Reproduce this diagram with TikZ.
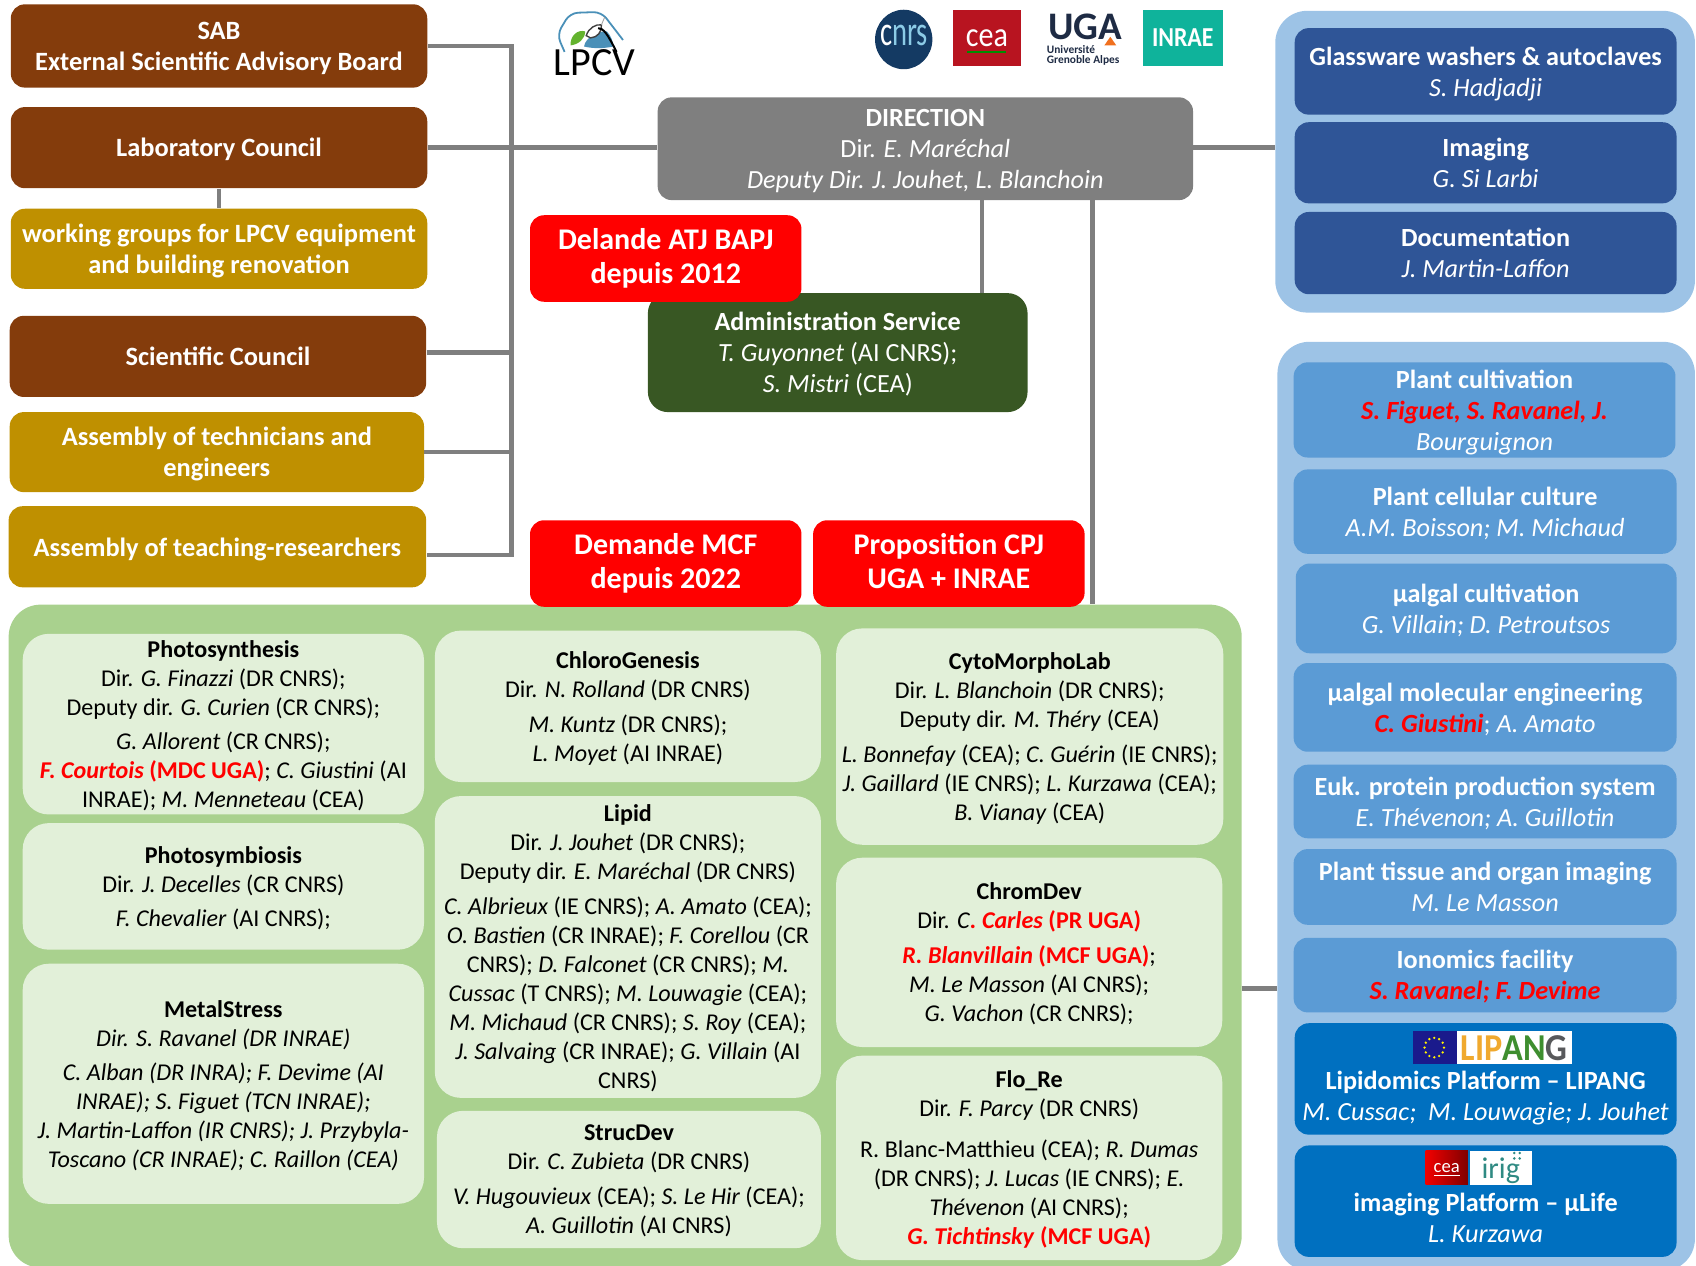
\documentclass[tikz,border=0pt]{standalone}
\usepackage{fontspec}
\setmainfont{Carlito}
\usepackage{xcolor}
\usepackage{graphicx}
\usetikzlibrary{calc,positioning,shapes.geometric}
\definecolor{brownbox}{HTML}{843C0C}
\definecolor{goldbox}{HTML}{BF9000}
\definecolor{greybox}{HTML}{7F7F7F}
\definecolor{adminbox}{HTML}{385723}
\definecolor{teamback}{HTML}{A9D18E}
\definecolor{teambox}{HTML}{E2F0D9}
\definecolor{panelback}{HTML}{9DC3E6}
\definecolor{servicebox}{HTML}{2F5597}
\definecolor{facilitybox}{HTML}{5B9BD5}
\definecolor{platformbox}{HTML}{0070C0}
\definecolor{cnrsblue}{HTML}{143A63}
\definecolor{cnrslight}{HTML}{8CCBE6}
\definecolor{ceared}{HTML}{B81420}
\definecolor{ugadark}{HTML}{1E2B44}
\definecolor{ugaorange}{HTML}{F0701E}
\definecolor{inraeteal}{HTML}{0FB39B}
\definecolor{lpcvblue}{HTML}{4A90B8}
\definecolor{lpcvleaf}{HTML}{63B32E}
\definecolor{euflag}{HTML}{1A1A8C}
\definecolor{lipangorange}{HTML}{F0A92E}
\definecolor{lipanggreen}{HTML}{3E8E2F}
\definecolor{lipanggrey}{HTML}{58595B}
\definecolor{irigteal}{HTML}{2F8A83}
\def\unitpx{0.5408pt}
\newcommand{\nm}[1]{\textit{#1}}
\newcommand{\hot}[1]{\textcolor{red}{\textbf{\textit{#1}}}}
\newcommand{\hotb}[1]{\textcolor{red}{\textbf{#1}}}
\tikzset{
  boxsize/.style 2 args={ % width and height, in reference pixels
    minimum width=#1*\unitpx, minimum height=#2*\unitpx
  },
  org/.style={
    rectangle, rounded corners=7pt, inner sep=0pt, align=center, text=white, text depth=0pt,
    font=\fontsize{13.1}{15.5}\selectfont
  },
  brown/.style={org, fill=brownbox, font=\fontsize{13.2}{15.5}\selectfont\bfseries},
  gold/.style={org, fill=goldbox, font=\fontsize{13.2}{15.5}\selectfont\bfseries},
  alert/.style={org, fill=red, text depth=3pt, font=\fontsize{15}{17}\selectfont\bfseries},
  panel/.style={rectangle, rounded corners=16pt, inner sep=0pt},
  team/.style={
    rectangle, rounded corners=13pt, inner sep=0pt, align=center, text=black, text depth=0pt,
    fill=teambox, font=\fontsize{12.05}{14.5}\selectfont
  },
  lowered/.style={execute at begin node={\rule{0pt}{10.5pt}}}, % text a little under the centre
  service/.style={org, fill=servicebox},
  facility/.style={org, fill=facilitybox},
  platform/.style={org, fill=platformbox},
  link/.style={draw=greybox, line width=2.3pt},
  logotext/.style={inner sep=0pt, align=center, text depth=0pt}
}
\begin{document}
\begin{tikzpicture}[x=\unitpx, y=-\unitpx]
  \path[use as bounding box, clip] (0,0) rectangle (1568,1170);

  % back panels
  \node[panel, fill=teamback, boxsize={1140}{613}] (research) at (578,865.5) {};
  \node[panel, fill=panelback, boxsize={388}{279}] (services) at (1373,149.5) {};
  \node[panel, fill=panelback, boxsize={386}{859}] (facilities) at (1374,745.5) {};

  % left column
  \node[brown, boxsize={385}{77}] (sab) at (202.5,42.5) {SAB\\External Scientific Advisory Board};
  \node[brown, boxsize={385}{75}] (council) at (202.5,136.5) {Laboratory Council};
  \node[gold, boxsize={385}{74}] (groups) at (202.5,230) {working groups for LPCV equipment\\and building renovation};
  \node[brown, boxsize={385}{75}] (scientific) at (201.5,329.5) {Scientific Council};
  \node[gold, boxsize={383}{74}] (technicians) at (200.5,418) {Assembly of technicians and\\engineers};
  \node[gold, boxsize={386}{75}] (teaching) at (201,505.5) {Assembly of teaching-researchers};

  % middle
  \node[org, fill=greybox, boxsize={495}{95}] (direction) at (855.5,137.5)
    {\textbf{DIRECTION}\\Dir. \nm{E. Maréchal}\\\nm{Deputy Dir. J. Jouhet, L. Blanchoin}};
  \node[org, fill=adminbox, rounded corners=10pt, boxsize={351}{110}] (admin) at (774.5,326)
    {\textbf{Administration Service}\\\nm{T. Guyonnet} (AI CNRS);\\\nm{S. Mistri} (CEA)};
  \node[alert, boxsize={251}{80}] (delande) at (615.5,239) {Delande ATJ BAPJ\\depuis 2012};
  \node[alert, boxsize={251}{80}] (demande) at (615.5,521) {Demande MCF\\depuis 2022};
  \node[alert, boxsize={251}{80}, right=10*\unitpx of demande] (cpj) {Proposition CPJ\\UGA + INRAE};

  % connectors
  \coordinate (spine) at (473,42);
  \coordinate (scientifictap) at ($(scientific.east)+(0,-3.5)$);
  \coordinate (teachingtap) at ($(teaching.east)+(0,7.5)$);
  \coordinate (admintap) at ($(direction.south)+(52.5,0)$);
  \coordinate (teamtap) at ($(direction.south)+(154.5,0)$);
  \coordinate (facilitytap) at (1148,914);
  \draw[link] (sab.east) -- (sab.east -| spine) -- (teachingtap -| spine) -- (teachingtap);
  \draw[link] (council.east) -- (council.east -| direction.west);
  \draw[link] (council.south) -- (council.south |- groups.north);
  \draw[link] (scientifictap) -- (scientifictap -| spine);
  \draw[link] (technicians.east) -- (technicians.east -| spine);
  \draw[link] (council.east -| direction.east) -- (council.east -| services.west);
  \draw[link] (admintap) -- (admintap |- admin.north);
  \draw[link] (teamtap) -- (teamtap |- research.north);
  \draw[link] (facilitytap) -- (facilitytap -| facilities.west);

  % teams
  \node[team, boxsize={371}{167}] (photosynthesis) at (206.5,669.5)
    {\textbf{Photosynthesis}\\Dir. \nm{G. Finazzi} (DR CNRS);\\Deputy dir. \nm{G. Curien} (CR CNRS);\\[2.7pt]
     \nm{G. Allorent} (CR CNRS);\\\hot{F. Courtois} \hotb{(MDC UGA)}; \nm{C. Giustini} (AI\\INRAE); \nm{M. Menneteau} (CEA)};
  \node[team, boxsize={371}{117}] (photosymbiosis) at (206.5,819.5)
    {\textbf{Photosymbiosis}\\Dir. \nm{J. Decelles} (CR CNRS)\\[2.7pt]\nm{F. Chevalier} (AI CNRS);};
  \node[team, lowered, boxsize={371}{222}] (metalstress) at (206.5,1002)
    {\textbf{MetalStress}\\\nm{Dir. S. Ravanel (DR INRAE)}\\[2.7pt]
     \nm{C. Alban (DR INRA); F. Devime (AI}\\\nm{INRAE); S. Figuet (TCN INRAE);}\\\nm{J. Martin-Laffon (IR CNRS); J. Przybyla-}\\\nm{Toscano (CR INRAE); C. Raillon (CEA)}};
  \node[team, boxsize={357}{140}] (chlorogenesis) at (580.5,653)
    {\textbf{ChloroGenesis}\\Dir. \nm{N. Rolland} (DR CNRS)\\[3pt]\nm{M. Kuntz} (DR CNRS);\\\nm{L. Moyet} (AI INRAE)};
  \node[team, boxsize={357}{279}] (lipid) at (580.5,875.5)
    {\textbf{Lipid}\\Dir. \nm{J. Jouhet} (DR CNRS);\\Deputy dir. \nm{E. Maréchal} (DR CNRS)\\[3pt]
     \nm{C. Albrieux} (IE CNRS); \nm{A. Amato} (CEA);\\\nm{O. Bastien} (CR INRAE); \nm{F. Corellou} (CR\\CNRS); \nm{D. Falconet} (CR CNRS); \nm{M.}\\
     \nm{Cussac} (T CNRS); \nm{M. Louwagie} (CEA);\\\nm{M. Michaud} (CR CNRS); \nm{S. Roy} (CEA);\\\nm{J. Salvaing} (CR INRAE); \nm{G. Villain} (AI\\CNRS)};
  \node[team, lowered, boxsize={355}{127}] (strucdev) at (581.5,1090.5)
    {\textbf{StrucDev}\\Dir. \nm{C. Zubieta} (DR CNRS)\\[3pt]\nm{V. Hugouvieux} (CEA); \nm{S. Le Hir} (CEA);\\\nm{A. Guillotin} (AI CNRS)};
  \node[team, boxsize={358}{200}] (cytomorpholab) at (952,681)
    {\textbf{CytoMorphoLab}\\Dir. \nm{L. Blanchoin} (DR CNRS);\\Deputy dir. \nm{M. Théry} (CEA)\\[3pt]
     \nm{L. Bonnefay} (CEA); \nm{C. Guérin} (IE CNRS);\\\nm{J. Gaillard} (IE CNRS); \nm{L. Kurzawa} (CEA);\\\nm{B. Vianay} (CEA)};
  \node[team, lowered, boxsize={357}{175}] (chromdev) at (951.5,880.5)
    {\textbf{ChromDev}\\Dir. \nm{C}\hot{. Carles} \hotb{(PR UGA)}\\[3pt]
     \hot{R. Blanvillain} \hotb{(MCF UGA)};\\\nm{M. Le Masson} (AI CNRS);\\\nm{G. Vachon} (CR CNRS);};
  \node[team, lowered, boxsize={357}{189}] (flore) at (951.5,1070.5)
    {\textbf{Flo\_Re}\\Dir. \nm{F. Parcy} (DR CNRS)\\[6pt]
     R. Blanc-Matthieu (CEA); \nm{R. Dumas}\\(DR CNRS); \nm{J. Lucas} (IE CNRS); \nm{E.}\\\nm{Thévenon} (AI CNRS);\\\hot{G. Tichtinsky} \hotb{(MCF UGA)}};

  % right column
  \node[service, boxsize={353}{80}] (glassware) at (1373.5,66) {\textbf{Glassware washers \& autoclaves}\\\nm{S. Hadjadji}};
  \node[service, boxsize={353}{75}] (imaging) at (1373.5,150.5) {\textbf{Imaging}\\\nm{G. Si Larbi}};
  \node[service, boxsize={353}{76}] (documentation) at (1373.5,234) {\textbf{Documentation}\\\nm{J. Martin-Laffon}};
  \node[facility, boxsize={353}{88}] (cultivation) at (1372.5,379) {\textbf{Plant cultivation}\\\hot{S. Figuet, S. Ravanel, J.}\\\nm{Bourguignon}};
  \node[facility, boxsize={354}{78}] (cellular) at (1373,473) {\textbf{Plant cellular culture}\\\nm{A.M. Boisson; M. Michaud}};
  \node[facility, boxsize={352}{83}] (mualgal) at (1374,562.5) {\textbf{µalgal cultivation}\\\nm{G. Villain; D. Petroutsos}};
  \node[facility, boxsize={354}{82}] (engineering) at (1373,654) {\textbf{µalgal molecular engineering}\\\hot{C. Giustini}; \nm{A. Amato}};
  \node[facility, boxsize={354}{68}] (euk) at (1373,741) {\textbf{Euk. protein production system}\\\nm{E. Thévenon; A. Guillotin}};
  \node[facility, boxsize={354}{70}] (tissue) at (1373,820) {\textbf{Plant tissue and organ imaging}\\\nm{M. Le Masson}};
  \node[facility, boxsize={354}{69}] (ionomics) at (1373,901.5) {\textbf{Ionomics facility}\\\hot{S. Ravanel; F. Devime}};
  \node[platform, boxsize={353}{103}] (lipang) at (1373.5,997.5) {\mbox{\vphantom{L}}\\[2pt]\textbf{Lipidomics Platform – LIPANG}\\\nm{M. Cussac;\ \ M. Louwagie; J. Jouhet}};
  \node[platform, boxsize={353}{103}] (mulife) at (1373.5,1110.5) {\mbox{\vphantom{L}}\\[1.5pt]\textbf{imaging Platform – µLife}\\\nm{L. Kurzawa}};

  % logos of the platforms
  \fill[euflag] (1306,953) rectangle (1347,984);
  \foreach \a in {0,30,...,330}
    \fill[yellow] ($(1326,968.5)+(\a:9)$) circle (1.2);
  \node[logotext, fill=white, boxsize={106}{31}, font=\fontsize{19}{19}\selectfont\bfseries] (lipanglogo) at (1400,968.5)
    {\scalebox{0.9}[1]{\textcolor{lipangorange}{LIP}\textcolor{lipanggreen}{AN}\textcolor{lipanggrey}{G}}};
  \node[logotext, left color=red!95!black, right color=red!50!black, boxsize={39}{31.5}, text=white, font=\fontsize{9.3}{9.3}\selectfont] (ceasmall) at (1337.5,1079.7) {cea};
  \fill[white] (1326,1086.5) rectangle (1350,1087.5);
  \node[logotext, fill=white, boxsize={57}{31.5}, text=irigteal, font=\fontsize{15}{15}\selectfont] (iriglogo) at (1387.5,1079.7) {irig};
  \foreach \a/\b in {1400/1066,1405/1066,1400/1071,1405/1071}
    \fill[irigteal] (\a,\b) circle (1.3);

  % logos at the top
  \draw[lpcvblue, line width=0.9pt, rounded corners=4pt] (522,48) -- (515,32) -- (527,12) -- (556,11) -- (576,37);
  \fill[lpcvblue] (540,43) .. controls (541,34) and (555,28) .. (561,29) .. controls (565,33) and (567,39) .. (567,43) .. controls (558,45) and (548,45) .. (540,43);
  \fill[lpcvleaf] (527.5,42) .. controls (527,33) and (534,27) .. (541,29) .. controls (541,36) and (535,41) .. (527.5,42);
  \draw[black!75, fill=white, line width=0.7pt] (542,33) .. controls (544,26) and (551,22) .. (556,23) .. controls (557,29) and (552,35) .. (546,35) -- cycle;
  \draw[black!40, line width=0.4pt] (556,23) -- (559,16);
  \draw[black, line width=1pt] (553,26) .. controls (558,26) and (562,32) .. (570,48);
  \node[logotext, font=\fontsize{20}{20}\selectfont] (lpcv) at (549.5,57.5) {LPCV};
  \fill[cnrsblue] (835.5,36.5) ellipse (26.5 and 27.5);
  \node[logotext, text=cnrslight, font=\fontsize{21}{21}\selectfont] (cnrs) at (836,33) {\scalebox{0.68}[1]{\textcolor{white}{c}nrs}};
  \node[logotext, fill=ceared, boxsize={63}{52}, text=white, font=\fontsize{17.3}{17.3}\selectfont] (cea) at (912.5,35) {\scalebox{0.87}[1]{cea}};
  \fill[green!55!black] (894,47.5) rectangle (930,49);
  \node[logotext, font=\fontsize{19.5}{19.5}\selectfont\bfseries, text=ugadark] (uga) at (1003.5,25) {UGA};
  \fill[ugaorange] (1026.5,34) -- (1032,42) -- (1021,42) -- cycle;
  \node[logotext, anchor=west, align=left, font=\fontsize{5.7}{5}\selectfont\bfseries, text=ugadark] (uganame) at (967.5,50) {Université\\Grenoble Alpes};
  \node[logotext, fill=inraeteal, boxsize={74}{52}, text=white, font=\fontsize{13.7}{13.7}\selectfont] (inrae) at (1093.5,35) {\scalebox{0.87}[1]{\textbf{INRAE}}};
\end{tikzpicture}
\end{document}
